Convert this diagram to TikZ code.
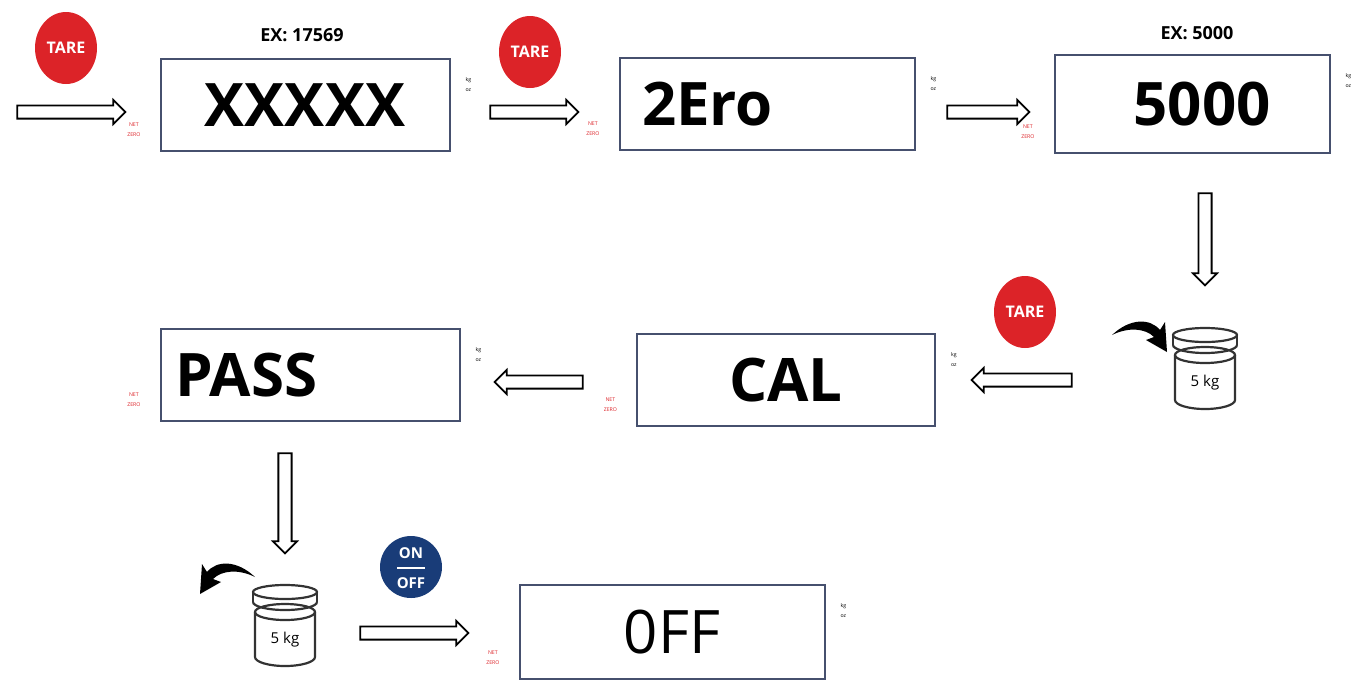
\documentclass[tikz,border=0pt]{standalone}
\usepackage{fontspec}
\setmainfont{Open Sans}
\usetikzlibrary{shapes.arrows,shapes.geometric}
\definecolor{tred}{RGB}{220,35,40}
\definecolor{tblue}{RGB}{25,60,120}
\definecolor{bframe}{RGB}{70,80,110}
\tikzset{
 disp/.style={draw=bframe,line width=1pt,minimum width=#1*0.5pt,minimum height=46pt,inner sep=0},
 big/.style={font=\fontsize{30}{30}\selectfont\bfseries},
 tare/.style={ellipse,fill=tred,text=white,minimum width=31pt,minimum height=36pt,inner sep=0,font=\fontsize{8}{8}\selectfont\bfseries},
 ra/.style={single arrow,draw,line width=0.9pt,minimum height=#1*0.5pt,minimum width=12pt,single arrow head extend=2pt,inner sep=2pt},
 sm/.style={font=\fontsize{2.6}{3}\selectfont},
 ex/.style={font=\fontsize{9}{9}\selectfont\bfseries}
}
\newcommand{\dmarks}[1]{%
 \node[sm,text=tred,anchor=south east,align=center] at ([xshift=-6pt,yshift=4pt]#1.south west) {NET\\[2pt]ZERO};
 \node[sm,anchor=north west,align=center] at ([xshift=4pt,yshift=-6pt]#1.north east) {kg\\[2pt]oz};}
\newcommand{\wt}[1]{%
 \begin{scope}[shift={#1},line width=1.1pt,draw=black!80]
  \draw (-30,-10) -- (-30,35) arc[start angle=180,end angle=0,x radius=30,y radius=9] -- (30,-10);
  \draw (0,-10) ellipse[x radius=30,y radius=8];
  \draw (-32,-30) -- (-32,-20) (32,-30) -- (32,-20);
  \draw (-32,-20) arc[start angle=180,end angle=0,x radius=32,y radius=8];
  \draw (0,-30) ellipse[x radius=32,y radius=7];
  \node[font=\fontsize{7.5}{7.5}\selectfont] at (0,18) {5 kg};
 \end{scope}}
\begin{document}
\begin{tikzpicture}[x=0.5pt,y=-0.5pt]
\useasboundingbox (0,0) rectangle (1351,682);
% displays
\node[disp=289,big] (d1) at (305,105) {XXXXX};
\node[disp=295,big,text width=125pt] (d2) at (767,104) {2Ero};
\node[disp=275,minimum height=49pt,big] (d3) at (1192,104) {\hspace{10pt}5000};
\node[disp=298,big] (d4) at (786,380) {CAL};
\node[disp=299,big,text width=135pt] (d5) at (310,375) {PASS};
\node[disp=305,minimum height=47pt,big,font=\fontsize{30}{30}\selectfont] (d6) at (672,632) {0FF};
\foreach \d in {d1,d2,d3,d4,d5,d6}{\dmarks{\d}}
\node[ex] (e1) at (302,35) {EX: 17569};
\node[ex] (e2) at (1197,33) {EX: 5000};
% buttons
\node[tare] (t1) at (66,48) {TARE};
\node[tare] (t2) at (530,52) {TARE};
\node[tare] (t3) at (1025,312) {TARE};
\node[circle,fill=tblue,minimum size=31pt,inner sep=0] (t4) at (411,567) {};
\node[text=white,font=\fontsize{7.5}{7.5}\selectfont\bfseries] (on) at (411,553) {ON};
\node[text=white,font=\fontsize{7.5}{7.5}\selectfont\bfseries] (off) at (411,583) {OFF};
\draw[white,line width=0.6pt] (397,568) -- (425,568);
% arrows
\node[ra=108] (a1) at (68,112) {};
\node[ra=88] (a2) at (531,112) {};
\node[ra=82] (a3) at (985,112) {};
\node[ra=92,rotate=-90] (a4) at (1205,236) {};
\node[ra=100,rotate=180] (a5) at (1025,380) {};
\node[ra=88,rotate=180] (a6) at (542,382) {};
\node[ra=100,rotate=-90] (a7) at (285,500) {};
\node[ra=108] (a8) at (411,633) {};
% weights
\wt{(1205,365)}
\wt{(285,622)}
\fill (1112,335) .. controls (1130,318) and (1150,318) .. (1160,330) -- (1165,322) -- (1167,352) -- (1146,340) -- (1154,337) .. controls (1145,328) and (1128,327) .. (1112,335) -- cycle;
\begin{scope}[xscale=-1,shift={(-460,235)}]
\fill (205,342) .. controls (223,325) and (243,325) .. (253,337) -- (258,329) -- (260,359) -- (239,347) -- (247,344) .. controls (238,335) and (221,334) .. (205,342) -- cycle;
\end{scope}
\end{tikzpicture}
\end{document}
